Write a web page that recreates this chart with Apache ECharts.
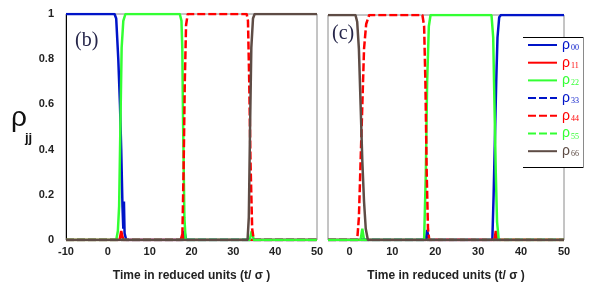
<!DOCTYPE html>
<html>
<head>
<meta charset="utf-8">
<script src="https://cdn.jsdelivr.net/npm/echarts@6/dist/echarts.min.js"></script>
<style>
  html, body { margin: 0; padding: 0; background: #fff; }
  #chart { width: 606px; height: 287px; }
</style>
</head>
<body>
<div id="chart"></div>
<script>
// 图例名称 / 颜色
const names = ["ρ00", "ρ11", "ρ22", "ρ33", "ρ44", "ρ55", "ρ66"];
const subs = ["00", "11", "22", "33", "44", "55", "66"];
const colors = ["#0014c8", "#ff0000", "#33ff33", "#0014c8", "#ff0000", "#33ff33", "#5e4c45"];
const dashed = [false, false, false, true, true, true, false];

// 刻度
const yTicks = [0, 0.2, 0.4, 0.6, 0.8, 1];
const xTicksB = [-10, 0, 10, 20, 30, 40, 50];
const xTicksC = [0, 10, 20, 30, 40, 50];

// (b) 面板数据 [t, rho]
const b00 = [[-10, 1], [1.6, 1], [2.0, 0.98], [2.5, 0.8], [2.9, 0.6], [3.2, 0.4], [3.5, 0.15], [3.7, 0.05], [3.85, 0.17], [4.0, 0.03], [4.4, 0], [17.9, 0], [18.3, 0.04], [18.7, 0], [50, 0]];
const b11 = [[-10, 0], [2.8, 0], [3.2, 0.04], [3.7, 0], [17.4, 0], [17.8, 0.025], [18.2, 0], [50, 0]];
const b22 = [[-10, 0], [2.0, 0], [2.4, 0.04], [2.7, 0.15], [3.0, 0.5], [3.3, 0.85], [3.7, 0.97], [4.2, 1], [17.2, 1], [17.6, 0.97], [17.8, 0.85], [18.0, 0.5], [18.3, 0.1], [18.6, 0], [33.9, 0], [34.4, 0.04], [34.9, 0], [50, 0]];
const b33 = [[-10, 0], [50, 0]];
const b44 = [[-10, 0], [17.8, 0], [18.1, 0.3], [18.4, 0.7], [18.7, 0.95], [19.1, 1], [33.2, 1], [33.5, 0.97], [33.8, 0.7], [34.1, 0.35], [34.5, 0.05], [34.9, 0], [50, 0]];
const b55 = [[-10, 0], [50, 0]];
const b66 = [[-10, 0], [33.4, 0], [33.7, 0.1], [34.0, 0.5], [34.3, 0.85], [34.7, 0.98], [35.1, 1], [50, 1]];

// (c) 面板数据
const c00 = [[-5, 0], [17.8, 0], [18.1, 0.045], [18.5, 0], [33.3, 0], [33.6, 0.2], [33.9, 0.45], [34.2, 0.7], [34.5, 0.9], [34.9, 0.99], [35.3, 1], [50, 1]];
const c11 = [[-5, 0], [33.8, 0], [34.1, 0.04], [34.5, 0], [50, 0]];
const c22 = [[-5, 0], [2.6, 0], [3.0, 0.05], [3.4, 0], [17.4, 0], [17.8, 0.3], [18.1, 0.7], [18.5, 0.95], [18.9, 1], [33.1, 1], [33.5, 0.9], [33.8, 0.6], [34.1, 0.3], [34.4, 0.08], [34.8, 0], [50, 0]];
const c33 = [[-5, 0], [50, 0]];
const c44 = [[-5, 0], [1.8, 0], [2.2, 0.1], [2.6, 0.35], [3.0, 0.6], [3.4, 0.85], [3.9, 0.96], [4.6, 1], [17.0, 1], [17.4, 0.95], [17.7, 0.7], [18.0, 0.3], [18.3, 0.05], [18.6, 0], [50, 0]];
const c55 = [[-5, 0], [50, 0]];
const c66 = [[-5, 1], [1.4, 1], [1.8, 0.97], [2.2, 0.85], [2.6, 0.6], [3.0, 0.35], [3.4, 0.17], [3.8, 0.05], [4.3, 0], [50, 0]];

const panelB = [b00, b11, b22, b33, b44, b55, b66];
const panelC = [c00, c11, c22, c33, c44, c55, c66];

const chart = echarts.init(document.getElementById("chart"));

const labelStyle = { color: "#222", fontFamily: "Arial", fontWeight: "bold", fontSize: 11 };
const nameStyle = { color: "#222", fontFamily: "Arial", fontWeight: "bold", fontSize: 12 };

function makeSeries(data, axisIdx) {
  return data.map((d, i) => ({
    name: names[i],
    type: "line",
    xAxisIndex: axisIdx,
    yAxisIndex: axisIdx,
    data: d,
    symbol: "none",
    animation: false,
    lineStyle: {
      color: colors[i],
      width: 2.5,
      type: dashed[i] ? [8, 3] : "solid",
    },
    itemStyle: { color: colors[i] },
  }));
}

const option = {
  animation: false,
  grid: [
    { left: 66, right: 289, top: 14, bottom: 47, show: true, borderColor: "#8a8a8a", borderWidth: 1 },
    { left: 328, right: 42, top: 15, bottom: 45, show: true, borderColor: "#8a8a8a", borderWidth: 1 },
  ],
  xAxis: [
    {
      gridIndex: 0, type: "value", min: xTicksB[0], max: xTicksB[xTicksB.length - 1], interval: 10,
      axisLine: { show: false }, axisTick: { show: false }, splitLine: { show: false },
      axisLabel: Object.assign({ margin: 6 }, labelStyle),
      name: "Time in reduced units (t/ σ )", nameLocation: "middle", nameGap: 30,
      nameTextStyle: nameStyle,
    },
    {
      gridIndex: 1, type: "value", min: -5, max: xTicksC[xTicksC.length - 1], interval: 5,
      axisLine: { show: false }, axisTick: { show: false }, splitLine: { show: false },
      axisLabel: Object.assign({
        margin: 6,
        formatter: (v) => (xTicksC.indexOf(v) >= 0 ? String(v) : ""),
      }, labelStyle),
      name: "Time in reduced units (t/ σ )", nameLocation: "middle", nameGap: 30,
      nameTextStyle: nameStyle,
    },
  ],
  yAxis: [
    {
      gridIndex: 0, type: "value", min: yTicks[0], max: yTicks[yTicks.length - 1], interval: 0.2,
      axisLine: { show: true, onZero: false, lineStyle: { color: "#000", width: 1 } },
      axisTick: { show: false }, splitLine: { show: false },
      axisLabel: Object.assign({ margin: 12, formatter: (v) => String(+v.toFixed(1)) }, labelStyle),
    },
    {
      gridIndex: 1, type: "value", min: 0, max: 1, interval: 0.2,
      axisLine: { show: false }, axisTick: { show: false }, splitLine: { show: false },
      axisLabel: { show: false },
    },
  ],
  legend: {
    orient: "vertical",
    left: 527,
    top: 38,
    z: 10,
    itemWidth: 29,
    itemHeight: 14,
    itemGap: 3.7,
    padding: 0,
    itemStyle: { opacity: 0 },
    data: names.map((n, i) => ({
      name: n,
      textStyle: {
        rich: {
          r: { color: colors[i], fontSize: 14, fontFamily: "Arial" },
          s: { color: colors[i], fontSize: 8, fontFamily: "Liberation Serif", padding: [6, 0, 0, 1] },
        },
      },
    })),
    formatter: (n) => "{r|ρ}{s|" + subs[names.indexOf(n)] + "}",
  },
  graphic: [
    { type: "rect", z: 5, shape: { x: 523, y: 37, width: 60, height: 130 }, style: { fill: "#fff" } },
    { type: "line", z: 6, shape: { x1: 523, y1: 37.5, x2: 583, y2: 37.5 }, style: { stroke: "#000", lineWidth: 1 } },
    { type: "line", z: 6, shape: { x1: 523, y1: 167.5, x2: 583, y2: 167.5 }, style: { stroke: "#000", lineWidth: 1 } },
    { type: "line", z: 6, shape: { x1: 583.5, y1: 37, x2: 583.5, y2: 168 }, style: { stroke: "#8a8a8a", lineWidth: 1 } },
    { type: "text", z: 6, left: 75, top: 31, style: { text: "(b)", font: "20px 'Liberation Serif'", fill: "#26264a" } },
    { type: "text", z: 6, left: 332, top: 24, style: { text: "(c)", font: "20px 'Liberation Serif'", fill: "#26264a" } },
    { type: "text", z: 6, left: 11, top: 104, style: { text: "ρ", font: "28px Arial", fill: "#111" } },
    { type: "text", z: 6, left: 25, top: 132, style: { text: "jj", font: "bold 13px Arial", fill: "#111" } },
  ],
  series: makeSeries(panelB, 0).concat(makeSeries(panelC, 1)),
};

chart.setOption(option);
</script>
</body>
</html>
